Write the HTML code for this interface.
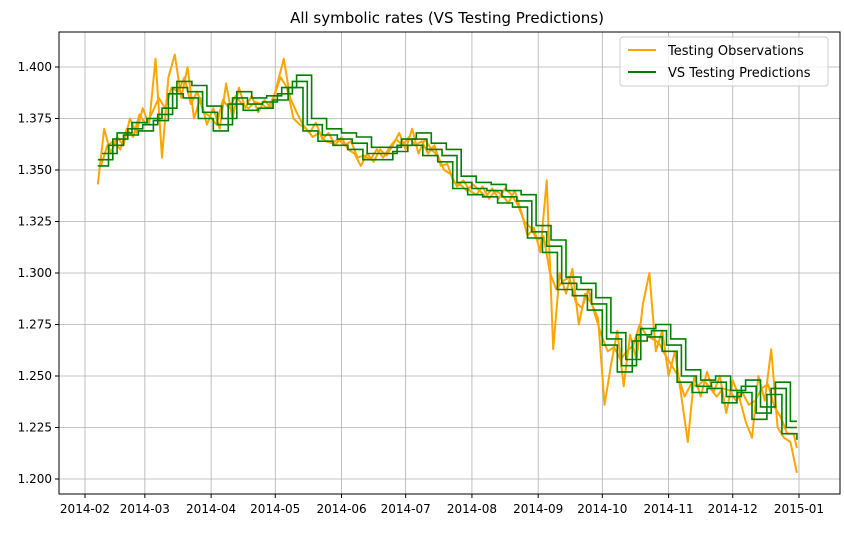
<!DOCTYPE html>
<html><head><meta charset="utf-8"><style>
body{margin:0;background:#fff;font-family:"Liberation Sans",sans-serif}
svg text{font-family:"DejaVu Sans","Liberation Sans",sans-serif}
</style></head><body>
<svg id="chart" width="844" height="528">
<text x="447" y="23" font-size="15" text-anchor="middle">All symbolic rates (VS Testing Predictions)</text>
<g id="grid"></g>
<g id="series"></g>
<rect x="59" y="32" width="781" height="462" fill="none" stroke="#000" stroke-width="1"/>
<g id="axes"></g>
<g>
<rect x="620" y="37" width="208" height="49" fill="#fff" fill-opacity="0.8" stroke="#ccc" rx="3"/>
<line x1="628" y1="50" x2="656" y2="50" stroke="orange" stroke-width="2"/>
<text x="668" y="55" font-size="13">Testing Observations</text>
<line x1="628" y1="72" x2="656" y2="72" stroke="green" stroke-width="2"/>
<text x="668" y="77" font-size="13">VS Testing Predictions</text>
</g>
</svg>
<script>
const yTicks=[1.200,1.225,1.250,1.275,1.300,1.325,1.350,1.375,1.400];
const xTickLabels=["2014-02","2014-03","2014-04","2014-05","2014-06","2014-07","2014-08","2014-09","2014-10","2014-11","2014-12","2015-01"];
const xTickDays=[0,28,59,89,120,150,181,212,242,273,303,334];
const obsStartDay=6, obsStepDays=3;
const observations=[1.343,1.370,1.358,1.366,1.362,1.375,1.368,1.380,
1.372,1.404,1.356,1.395,1.406,1.385,1.400,1.375,1.385,1.372,
1.380,1.370,1.392,1.375,1.390,1.380,1.386,1.378,1.384,1.380,
1.392,1.404,1.385,1.378,1.372,1.368,1.373,1.365,1.368,1.362,
1.366,1.360,1.358,1.352,1.358,1.354,1.360,1.357,1.362,1.368,
1.360,1.370,1.358,1.365,1.360,1.357,1.350,1.348,1.342,1.345,
1.340,1.338,1.342,1.336,1.340,1.338,1.334,1.340,1.330,1.318,
1.322,1.310,1.345,1.263,1.300,1.290,1.302,1.275,1.290,1.285,
1.278,1.236,1.255,1.272,1.245,1.270,1.258,1.285,1.300,1.262,
1.272,1.250,1.262,1.240,1.218,1.250,1.240,1.252,1.242,1.250,
1.232,1.248,1.240,1.228,1.220,1.250,1.238,1.263,1.225,1.220,1.218,1.203];
const obs2StartDay=7.5;
const observations2=[1.352,1.362,1.364,1.360,1.370,1.366,1.377,1.372,
1.378,1.385,1.380,1.390,1.388,1.395,1.382,1.388,1.378,1.376,
1.372,1.384,1.380,1.386,1.382,1.380,1.383,1.382,1.380,1.386,
1.395,1.390,1.375,1.372,1.370,1.366,1.368,1.364,1.363,1.365,
1.362,1.364,1.356,1.357,1.355,1.360,1.356,1.361,1.365,1.362,
1.366,1.362,1.364,1.358,1.362,1.352,1.353,1.344,1.343,1.340,
1.343,1.340,1.337,1.341,1.336,1.341,1.338,1.333,1.325,1.322,
1.316,1.318,1.300,1.292,1.296,1.298,1.286,1.283,1.292,1.280,
1.270,1.262,1.264,1.258,1.262,1.265,1.275,1.270,1.268,1.266,
1.260,1.255,1.250,1.240,1.246,1.245,1.248,1.244,1.240,1.244,
1.243,1.238,1.242,1.236,1.238,1.244,1.246,1.235,1.230,1.222,1.222,1.215];
const predStartDay=6, predStepDays=7;
const predictions=[1.355,1.365,1.370,1.372,1.377,1.390,1.388,1.378,1.372,1.385,1.382,1.383,1.387,1.393,1.372,1.367,1.365,1.363,1.358,1.358,1.362,1.365,1.360,1.357,1.344,1.341,1.340,1.337,1.335,1.320,1.313,1.295,1.292,1.285,1.268,1.255,1.270,1.272,1.265,1.250,1.245,1.247,1.240,1.245,1.232,1.244,1.225,1.222];
const predOffsets=[-0.003,0,0.003];
const predShifts=[0,2,4];
const endDay=333;

const X=d=>85+d*(799-85)/334;
const Y=v=>479-(v-1.2)*(479-67)/0.2;
const NS="http://www.w3.org/2000/svg";
const grid=document.getElementById('grid'),axes=document.getElementById('axes'),ser=document.getElementById('series');
function mk(tag,attrs,parent){const e=document.createElementNS(NS,tag);for(const k in attrs)e.setAttribute(k,attrs[k]);parent.appendChild(e);return e;}
yTicks.forEach(v=>{
 const g=mk('line',{x1:59,x2:840,y1:Y(v),y2:Y(v),stroke:'#b0b0b0','stroke-width':0.8},grid);
 
 
 mk('line',{x1:55,x2:59,y1:Y(v),y2:Y(v),stroke:'#000'},axes);
 const t=mk('text',{x:52,y:Y(v)+4,'font-size':12,'text-anchor':'end'},axes);
 t.textContent=v.toFixed(3);
 
 
});
xTickDays.forEach((d,i)=>{
 const g=mk('line',{x1:X(d),x2:X(d),y1:32,y2:494,stroke:'#b0b0b0','stroke-width':0.8},grid);
 
 
 mk('line',{x1:X(d),x2:X(d),y1:494,y2:498,stroke:'#000'},axes);
 const t=mk('text',{x:X(d),y:513,'font-size':12,'text-anchor':'middle'},axes);
 t.textContent=xTickLabels[i];
 
 
});
[[observations,obsStartDay],[observations2,obs2StartDay]].forEach(([arr,s])=>{
 const p=arr.map((v,i)=>X(Math.min(endDay,s+i*obsStepDays)).toFixed(1)+','+Y(v).toFixed(1)).join(' ');
 const ob=mk('polyline',{points:p,fill:'none',stroke:'orange','stroke-width':2,'stroke-linejoin':'round'},ser);
 
 
});
predOffsets.forEach((o,k)=>{
 const pts=[];
 predictions.forEach((v,i)=>{
  const d0=Math.max(predStartDay,predStartDay+i*predStepDays+predShifts[k]-2);
  const d1=Math.min(endDay,predStartDay+(i+1)*predStepDays+predShifts[k]-2);
  if(d0>endDay)return;
  pts.push(X(d0).toFixed(1)+','+Y(v+o).toFixed(1));
  pts.push(X(d1).toFixed(1)+','+Y(v+o).toFixed(1));
 });
 const l=mk('polyline',{points:pts.join(' '),fill:'none',stroke:'green','stroke-width':1.6},ser);
 
 
});
</script>
</body></html>
